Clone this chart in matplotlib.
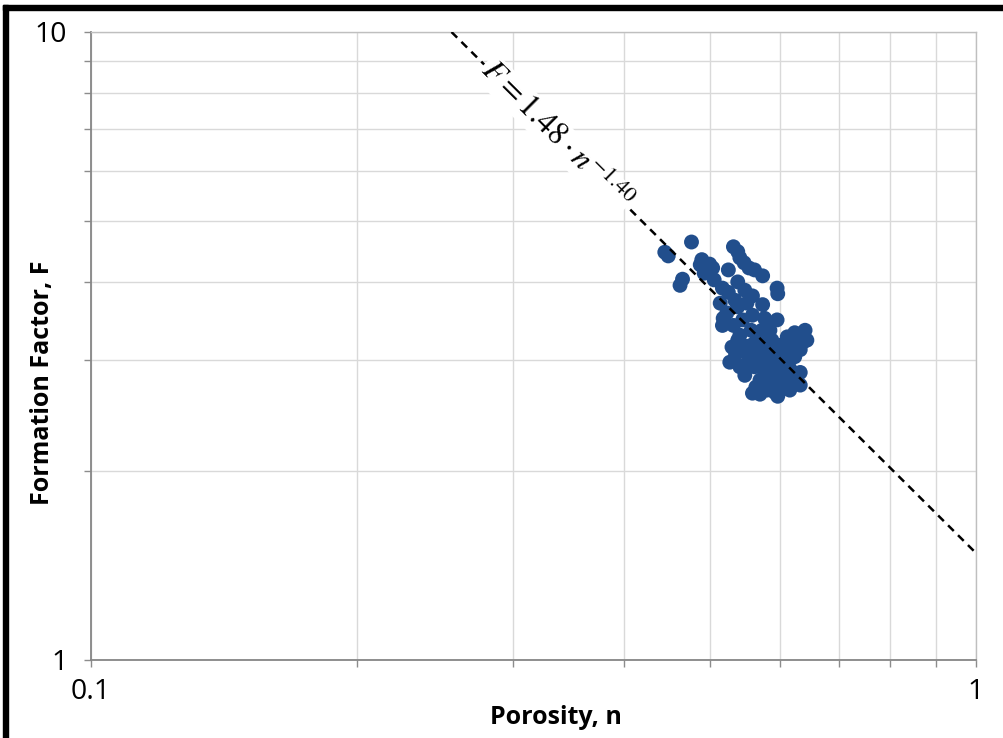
import matplotlib
matplotlib.use('Agg')
import matplotlib.pyplot as plt
import numpy as np
from matplotlib.patches import Rectangle
from matplotlib.ticker import LogLocator, NullFormatter

plt.rcParams['mathtext.fontset'] = 'stix'

# Measured porosity / formation factor pairs
porosity = [
    0.445, 0.449, 0.477, 0.466, 0.463, 0.490, 0.500, 0.504, 0.493, 0.506,
    0.488, 0.532, 0.538, 0.541, 0.547, 0.554, 0.562, 0.574, 0.596, 0.597,
    0.517, 0.525, 0.538, 0.514, 0.523, 0.518, 0.538, 0.551, 0.559, 0.574,
    0.532, 0.545, 0.559, 0.596, 0.585, 0.530, 0.545, 0.633, 0.644, 0.612,
    0.624, 0.527, 0.541, 0.555, 0.564, 0.559, 0.580, 0.603, 0.619, 0.626,
    0.600, 0.565, 0.577, 0.588, 0.600, 0.616, 0.570, 0.582, 0.594, 0.608,
    0.624, 0.633, 0.562, 0.577, 0.589, 0.603, 0.616, 0.570, 0.585, 0.548,
    0.552, 0.573, 0.582, 0.557, 0.592, 0.608, 0.570, 0.616, 0.597, 0.535,
    0.517, 0.541, 0.641, 0.600, 0.585, 0.567, 0.633, 0.548, 0.525, 0.534,
    0.577, 0.573, 0.585, 0.597, 0.610, 0.621, 0.574, 0.587, 0.599, 0.613,
    0.626, 0.557, 0.564, 0.616, 0.638, 0.580, 0.548, 0.538, 0.577, 0.592,
    0.633,
]
formation_factor = [
    4.46, 4.40, 4.63, 4.04, 3.95, 4.34, 4.27, 4.21, 4.13, 4.03,
    4.26, 4.55, 4.47, 4.37, 4.29, 4.21, 4.18, 4.09, 3.91, 3.83,
    3.91, 3.85, 4.00, 3.70, 3.57, 3.50, 3.65, 3.70, 3.80, 3.68,
    3.41, 3.48, 3.54, 3.48, 3.35, 3.15, 3.17, 3.29, 3.23, 3.27,
    3.32, 2.98, 2.93, 2.97, 2.72, 2.66, 2.69, 2.71, 2.74, 2.79,
    2.82, 3.23, 3.17, 3.23, 3.17, 3.14, 3.09, 3.06, 3.08, 3.00,
    3.04, 3.12, 2.93, 2.87, 2.91, 2.87, 2.91, 2.79, 2.76, 2.84,
    3.07, 3.35, 3.42, 3.35, 3.12, 2.84, 2.65, 2.69, 2.63, 3.07,
    3.41, 3.29, 3.35, 2.94, 2.97, 3.00, 2.87, 3.88, 4.18, 3.74,
    3.50, 3.21, 3.12, 3.17, 3.10, 3.21, 2.98, 2.84, 2.79, 2.79,
    2.86, 3.17, 3.02, 3.03, 3.21, 3.29, 2.95, 3.23, 2.71, 2.67,
    2.74,
]

# Power-law fit F = a * n^b
fit_a = 1.48
fit_b = -1.40

x_ticks = [0.1, 1]
x_tick_labels = ['0.1', '1']
y_ticks = [1, 10]
y_tick_labels = ['1', '10']

fig = plt.figure(figsize=(10.04, 7.38), dpi=100)
ax = fig.add_axes([91 / 1004, 1 - 660 / 738, 885 / 1004, 628 / 738])

ax.set_xscale('log')
ax.set_yscale('log')
ax.set_xlim(0.1, 1)
ax.set_ylim(1, 10)

tick_font = dict(fontsize=20.5, fontfamily='Open Sans')
ax.set_xticks(x_ticks, x_tick_labels, **tick_font)
ax.set_yticks(y_ticks, y_tick_labels, **tick_font)
ax.xaxis.set_minor_locator(LogLocator(base=10, subs=np.arange(2, 10)))
ax.yaxis.set_minor_locator(LogLocator(base=10, subs=np.arange(2, 10)))
ax.xaxis.set_minor_formatter(NullFormatter())
ax.yaxis.set_minor_formatter(NullFormatter())
ax.grid(True, which='both', color='#d9d9d9', linewidth=1.0)
ax.set_axisbelow(True)

ax.tick_params(which='both', direction='out', length=5, width=1,
               color='#8c8c8c')
ax.tick_params(axis='x', which='major', pad=8)
ax.tick_params(axis='y', which='major', pad=12)

for side in ['left', 'bottom']:
    ax.spines[side].set_color('#868686')
    ax.spines[side].set_linewidth(1.3)
for side in ['top', 'right']:
    ax.spines[side].set_color('#bfbfbf')
    ax.spines[side].set_linewidth(1.0)

# Data points
ax.scatter(porosity, formation_factor, s=115, color='#214e8c',
           edgecolors='none', zorder=3)

# Fitted trend line, clipped at the top of the plot
n_start = (10 / fit_a) ** (1 / fit_b)
n_fit = np.array([n_start, 1.0])
f_fit = fit_a * n_fit ** fit_b
ax.plot(n_fit, f_fit, color='black', linewidth=1.8,
        linestyle=(0, (3.2, 2.4)), zorder=4)

# Equation label laid along the line
p0 = ax.transData.transform((n_fit[0], f_fit[0]))
p1 = ax.transData.transform((n_fit[1], f_fit[1]))
angle = np.degrees(np.arctan2(p1[1] - p0[1], p1[0] - p0[0]))
n_lbl = 0.335
ax.text(n_lbl, fit_a * n_lbl ** fit_b, r'$F = 1.48 \cdot n^{-1.40}$',
        fontsize=23, rotation=angle, rotation_mode='anchor',
        ha='center', va='center', zorder=5,
        bbox=dict(facecolor='white', edgecolor='none', pad=1))

ax.set_xlabel('Porosity, n', fontsize=18, fontweight='bold',
              fontfamily='Open Sans')
ax.set_ylabel('Formation Factor, F', fontsize=18, fontweight='bold',
              fontfamily='Open Sans')
ax.xaxis.set_label_coords(0.525, -0.092)
ax.xaxis.label.set_va('center')
ax.yaxis.set_label_coords(-0.055, 0.441)
ax.yaxis.label.set_va('center')

# Heavy frame along the left and top edges
fig.patches.append(Rectangle((3 / 1004, 0), 5 / 1004, 1 - 5 / 738,
                             transform=fig.transFigure, color='black'))
fig.patches.append(Rectangle((3 / 1004, 1 - 10 / 738), 1 - 3 / 1004, 5 / 738,
                             transform=fig.transFigure, color='black'))

fig.savefig('out.png', dpi=100, facecolor='white')
